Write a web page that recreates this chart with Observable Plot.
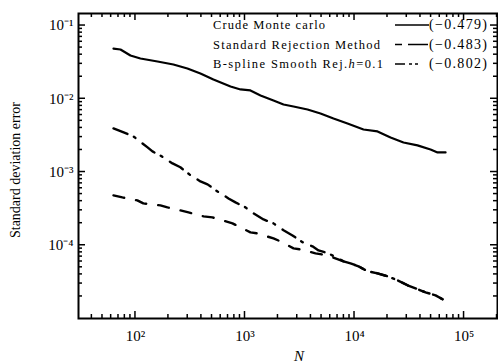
<!DOCTYPE html>
<html><head><meta charset="utf-8">
<script src="https://cdn.jsdelivr.net/npm/d3@7"></script>
<script src="https://cdn.jsdelivr.net/npm/@observablehq/plot@0.6"></script>
<style>
body{margin:0;background:#fff;overflow:hidden;}
#wrap{width:498px;height:364px;}
</style></head><body><div id="wrap"></div>
<script>
// Crude Monte Carlo
const crudeN = [63,73,90,111,159,222,298,392,515,738,910,1122,1386,1820,2248,2773,3724,4890,6427,8630,12080,16220,21330,28000,37580,49430,57280,67800];
const crudeErr = [0.0485,0.0471,0.0390,0.0355,0.0323,0.0294,0.0259,0.0221,0.0183,0.0147,0.0134,0.0130,0.0111,0.00948,0.00836,0.00785,0.00714,0.00630,0.00538,0.00460,0.00381,0.00358,0.00296,0.00253,0.00231,0.00203,0.00185,0.00185];
// Standard Rejection Method
const stdN = [63,76,104,118,169,196,257,305,418,505,769,1122,1300,1820,2109,2773,3214,4406,5662,7943,9190,10890,13150,16220,20000,24710,30480,36060,44460,54950,63680];
const stdErr = [4.80e-4,4.50e-4,4.10e-4,3.73e-4,3.50e-4,3.29e-4,2.99e-4,2.81e-4,2.48e-4,2.40e-4,1.99e-4,1.50e-4,1.45e-4,1.24e-4,1.13e-4,9.07e-5,8.79e-5,7.75e-5,7.28e-5,6.03e-5,5.66e-5,5.15e-5,4.41e-5,4.14e-5,3.77e-5,3.32e-5,2.84e-5,2.58e-5,2.28e-5,2.07e-5,1.83e-5];
// B-spline Smooth Rejection h=0.1
const bsN = [63,78,96,129,143,169,218,257,311,392,455,561,707,819,1011,1197,1476,1820,2248,2716,3350,4130,4690,5790,7943,9190,10890,13150,16220,20000,24710,30480,36060,44460,54950,63680];
const bsErr = [3.94e-3,3.47e-3,3.06e-3,2.17e-3,1.91e-3,1.68e-3,1.31e-3,1.16e-3,9.27e-4,7.44e-4,6.78e-4,5.43e-4,4.36e-4,3.85e-4,3.29e-4,2.72e-4,2.25e-4,1.99e-4,1.60e-4,1.36e-4,1.10e-4,9.66e-5,8.51e-5,7.75e-5,6.03e-5,5.66e-5,5.15e-5,4.41e-5,4.14e-5,3.77e-5,3.32e-5,2.84e-5,2.58e-5,2.28e-5,2.07e-5,1.83e-5];

const legendNames = ["Crude Monte carlo", "Standard Rejection Method", "B-spline Smooth Rej."];
const legendSlopes = ["(−0.479)", "(−0.483)", "(−0.802)"];

const xMajor = [1e2, 1e3, 1e4, 1e5];
const yMajor = [1e-1, 1e-2, 1e-3, 1e-4];
const mult = [2,3,4,5,6,7,8,9];
const xDomain = [30.2, 2.02e5];
const yDomain = [1.0e-5, 0.146];
const xMinor = [1,2,3,4,5].flatMap(e => mult.map(m => m * 10 ** e)).filter(v => v > xDomain[0] && v < xDomain[1]);
const yMinor = [-5,-4,-3,-2,-1].flatMap(e => mult.map(m => +(m * 10 ** e).toPrecision(3))).filter(v => v > yDomain[0] && v < yDomain[1]);

const supMap = {"-":"⁻","0":"⁰","1":"¹","2":"²","3":"³","4":"⁴","5":"⁵"};
const fmt = d => "10" + String(Math.round(Math.log10(d))).split("").map(c => supMap[c]).join("");

const toRows = (ns, es) => ns.map((n, i) => ({N: n, err: es[i]}));

const font = '"Liberation Serif", "Times New Roman", serif';
const W = 498, H = 364, mL = 78, mR = 1, mT = 13, mB = 46;
const MAJ = 7, MIN = 4;

const chart = Plot.plot({
  width: W, height: H,
  marginLeft: mL, marginRight: mR, marginTop: mT, marginBottom: mB,
  style: {fontFamily: font, fontSize: "15px", color: "#000", background: "#fff"},
  x: {type: "log", domain: xDomain, label: null},
  y: {type: "log", domain: yDomain, label: null},
  marks: [
    Plot.frame({strokeWidth: 2}),
    Plot.axisX(xMajor, {anchor: "bottom", tickSize: 0, tickPadding: 12, tickFormat: fmt}),
    Plot.axisY(yMajor, {anchor: "left", tickSize: 0, tickPadding: 5, tickFormat: fmt}),
    Plot.line(toRows(crudeN, crudeErr), {x: "N", y: "err", stroke: "#000", strokeWidth: 2.2}),
    Plot.line(toRows(stdN, stdErr), {x: "N", y: "err", stroke: "#000", strokeWidth: 2.4, strokeDasharray: "11,12"}),
    Plot.line(toRows(bsN, bsErr), {x: "N", y: "err", stroke: "#000", strokeWidth: 2.4, strokeDasharray: "15,7,2,9"}),
    Plot.text(["Standard deviation error"], {frameAnchor: "left", textAnchor: "middle", rotate: -90, dx: -63, dy: 4, fontSize: 14}),
    Plot.text(["N"], {frameAnchor: "bottom", dx: 11, dy: 42, fontSize: 15, fontStyle: "italic"})
  ]
});
document.getElementById("wrap").appendChild(chart);

// inward ticks on all four sides, placed with the plot's own scales
let sx, sy;
try { const a = chart.scale("x"), b = chart.scale("y"); sx = v => a.apply(v); sy = v => b.apply(v); }
catch (e) {
  const a = d3.scaleLog().domain(xDomain).range([mL, W - mR]);
  const b = d3.scaleLog().domain(yDomain).range([H - mB, mT]);
  sx = a; sy = b;
}
const tg = d3.select(chart).append("g").attr("stroke", "#000").attr("stroke-width", 1.5);
const addX = (vals, len) => vals.forEach(v => {
  const X = sx(v);
  tg.append("line").attr("x1", X).attr("x2", X).attr("y1", H - mB).attr("y2", H - mB - len);
  tg.append("line").attr("x1", X).attr("x2", X).attr("y1", mT).attr("y2", mT + len);
});
const addY = (vals, len) => vals.forEach(v => {
  const Y = sy(v);
  tg.append("line").attr("x1", mL).attr("x2", mL + len).attr("y1", Y).attr("y2", Y);
  tg.append("line").attr("x1", W - mR).attr("x2", W - mR - len).attr("y1", Y).attr("y2", Y);
});
addX(xMajor, MAJ); addX(xMinor, MIN); addY(yMajor, MAJ); addY(yMinor, MIN);

// legend inside the plot frame (top right)
const lg = d3.select(chart).append("g").attr("font-family", font).attr("fill", "#000");
const rowY = [29, 48.5, 68];
const nameLen = [112, 167, 170];
const dashes = [null, "7,6,20", "10,4,3,3,3,20"];
legendNames.forEach((name, i) => {
  const t = lg.append("text").attr("x", 213).attr("y", rowY[i]).attr("font-size", 12.5)
    .attr("text-anchor", "start").attr("textLength", nameLen[i]).attr("lengthAdjust", "spacing");
  t.append("tspan").text(name);
  if (i === 2) {
    t.append("tspan").attr("font-style", "italic").text("h");
    t.append("tspan").text("=0.1");
  }
  lg.append("line").attr("x1", 395).attr("x2", 429).attr("y1", rowY[i] - 4).attr("y2", rowY[i] - 4)
    .attr("stroke", "#000").attr("stroke-width", 1.6).attr("stroke-dasharray", dashes[i]);
  lg.append("text").attr("x", 429).attr("y", rowY[i]).attr("text-anchor", "start").attr("font-size", 14)
    .attr("textLength", 58).attr("lengthAdjust", "spacing").text(legendSlopes[i]);
});
</script></body></html>
